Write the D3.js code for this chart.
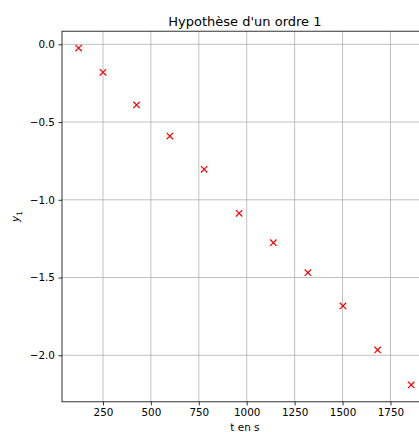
<!DOCTYPE html>
<html><head><meta charset="utf-8">
<script src="https://cdn.jsdelivr.net/npm/d3@7"></script>
<style>
html,body{margin:0;padding:0;background:#fff;overflow:hidden}
svg{display:block;overflow:hidden}
text{font-family:"DejaVu Sans",sans-serif;fill:#000}
</style></head>
<body>
<script>
const times = [123, 250, 425, 599, 778, 960, 1139, 1319, 1502, 1683, 1858];
const y1Values = [-0.024, -0.180, -0.390, -0.590, -0.804, -1.087, -1.276, -1.469, -1.683, -1.966, -2.191];
const xTicks = [250, 500, 750, 1000, 1250, 1500, 1750];
const yTicks = [0.0, -0.5, -1.0, -1.5, -2.0];
const title = "Hypothèse d'un ordre 1";
const xLabel = "t en s";

(function () {
const W = 419, H = 432;
const pL = 62, pR = 427.8, pT = 31.2, pB = 401.8;

const svg = d3.select("body").append("svg").attr("width", W).attr("height", H);

const pad = (ext) => { const r = ext[1] - ext[0]; return [ext[0] - 0.05 * r, ext[1] + 0.05 * r]; };
const x = d3.scaleLinear().domain(pad(d3.extent(times))).range([pL, pR]);
const y = d3.scaleLinear().domain(pad(d3.extent(y1Values))).range([pB, pT]);

svg.append("clipPath").attr("id", "c").append("rect")
  .attr("x", pL).attr("y", pT).attr("width", pR - pL).attr("height", pB - pT);

// grid
const grid = svg.append("g").attr("clip-path", "url(#c)");
grid.selectAll("line.gx").data(xTicks).join("line").attr("class", "gx")
  .attr("x1", d => x(d)).attr("x2", d => x(d)).attr("y1", pT).attr("y2", pB)
  .attr("stroke", "#b0b0b0").attr("stroke-width", 0.8);
grid.selectAll("line.gy").data(yTicks).join("line").attr("class", "gy")
  .attr("y1", d => y(d)).attr("y2", d => y(d)).attr("x1", pL).attr("x2", pR)
  .attr("stroke", "#b0b0b0").attr("stroke-width", 0.8);

// axes
const fmtY = d3.format(".1f");
const xAxis = d3.axisBottom(x).tickValues(xTicks).tickSize(3.6).tickPadding(3.5).tickFormat(d3.format("d"));
const yAxis = d3.axisLeft(y).tickValues(yTicks).tickSize(3.6).tickPadding(3.5).tickFormat(fmtY);

const gx = svg.append("g").attr("transform", `translate(0,${pB})`).call(xAxis);
const gy = svg.append("g").attr("transform", `translate(${pL},0)`).call(yAxis);
[gx, gy].forEach(g => {
  g.select(".domain").remove();
  g.selectAll(".tick line").attr("stroke", "#000").attr("stroke-width", 0.8);
  g.selectAll(".tick text").attr("font-family", "DejaVu Sans").attr("font-size", 10.4).attr("fill", "#000");
});

// spines
svg.append("rect").attr("x", pL).attr("y", pT).attr("width", pR - pL).attr("height", pB - pT)
  .attr("fill", "none").attr("stroke", "#000").attr("stroke-width", 0.8);

// markers
const s = 3.2;
svg.append("g").attr("clip-path", "url(#c)").selectAll("path").data(times.map((t, i) => [t, y1Values[i]])).join("path")
  .attr("d", d => { const cx = x(d[0]), cy = y(d[1]);
    return `M${cx - s},${cy - s}L${cx + s},${cy + s}M${cx - s},${cy + s}L${cx + s},${cy - s}`; })
  .attr("stroke", "red").attr("stroke-width", 1.2).attr("fill", "none");

// title
svg.append("text").attr("x", (pL + pR) / 2).attr("y", 26).attr("text-anchor", "middle")
  .attr("font-size", 13).text(title);

// x label
svg.append("text").attr("x", (pL + pR) / 2).attr("y", 431).attr("text-anchor", "middle")
  .attr("font-size", 10.4).text(xLabel);

// y label
const yl = svg.append("text").attr("transform", `translate(19,${(pT + pB) / 2}) rotate(-90)`)
  .attr("text-anchor", "middle").attr("font-size", 10.4);
yl.append("tspan").attr("font-style", "italic").text("y");
yl.append("tspan").attr("font-size", 7.3).attr("dy", 2.5).text("1");
})();
</script>
</body></html>
